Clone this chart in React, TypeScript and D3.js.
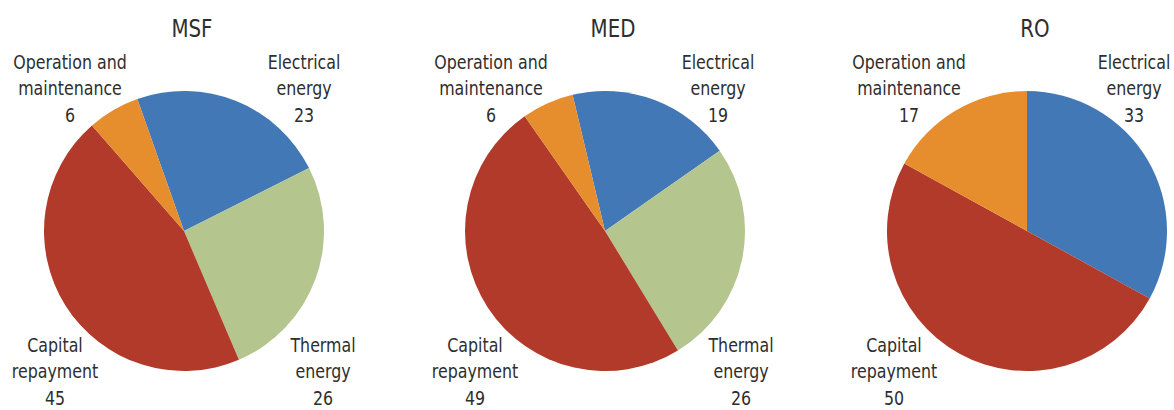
import * as d3 from 'd3';
import React from 'react';

const categories = ['Electrical energy', 'Thermal energy', 'Capital repayment', 'Operation and maintenance'];
const labelLines = [['Electrical', 'energy'], ['Thermal', 'energy'], ['Capital', 'repayment'], ['Operation and', 'maintenance']];
const titles = ['MSF', 'MED', 'RO'];
const msfValues = [23, 26, 45, 6];
const medValues = [19, 26, 49, 6];
const roValues = [33, 0, 50, 17];
const colors = ['#4178b5', '#b4c58e', '#b13a2a', '#e68d2d'];

// measured layout of each panel: center x, start angle (deg), label x offsets per slice
const layout = [
  { cx: 184, start: -19.5, dx: [120, 139, -129, -114], up: [true, false, false, true] },
  { cx: 605, start: -13.4, dx: [113, 136, -130, -114], up: [true, false, false, true] },
  { cx: 1027, start: 0, dx: [107, 0, -133, -118], up: [true, false, false, true] },
];

const width = 1174;
const height = 410;
const cy = 231;
const radius = 140;
const squeeze = 0.88; // mimic the condensed face of the original
const font = "'DejaVu Sans Condensed', 'DejaVu Sans', sans-serif";

function Pie({ title, values, idx }: { title: string; values: number[]; idx: number }) {
  const lay = layout[idx];
  const start = (lay.start * Math.PI) / 180;
  const pie = d3
    .pie<number>()
    .sort(null)
    .value(d => d)
    .startAngle(start)
    .endAngle(start + 2 * Math.PI);
  const arc = d3.arc<d3.PieArcDatum<number>>().innerRadius(0).outerRadius(radius);
  const arcs = pie(values);

  return (
    <g>
      <text
        transform={`translate(${lay.cx + 8},37) scale(${squeeze},1)`}
        textAnchor="middle"
        fontSize={25}
        fill="#2e2e2e"
        fontFamily={font}
      >
        {title}
      </text>
      <g transform={`translate(${lay.cx},${cy})`}>
        {arcs.map((a, i) =>
          a.value > 0 ? <path key={categories[i]} d={arc(a) || ''} fill={colors[i]} /> : null
        )}
      </g>
      {values.map((v, i) => {
        if (v <= 0) return null;
        const x = lay.cx + lay.dx[i];
        const y0 = lay.up[i] ? 69 : 352;
        const lines = [...labelLines[i], String(v)];
        return (
          <text
            key={categories[i]}
            transform={`translate(${x},${y0}) scale(${squeeze},1)`}
            textAnchor="middle"
            fontSize={20}
            fill="#2e2e2e"
            fontFamily={font}
          >
            {lines.map((t, k) => (
              <tspan key={k} x={0} y={k * 26.5}>
                {t}
              </tspan>
            ))}
          </text>
        );
      })}
    </g>
  );
}

export default function App() {
  const data = [msfValues, medValues, roValues];
  return (
    <div style={{ position: 'absolute', left: 0, top: 0 }}>
      <svg width={width} height={height} style={{ display: 'block', background: '#fff' }}>
        {titles.map((t, i) => (
          <Pie key={t} title={t} values={data[i]} idx={i} />
        ))}
      </svg>
    </div>
  );
}
